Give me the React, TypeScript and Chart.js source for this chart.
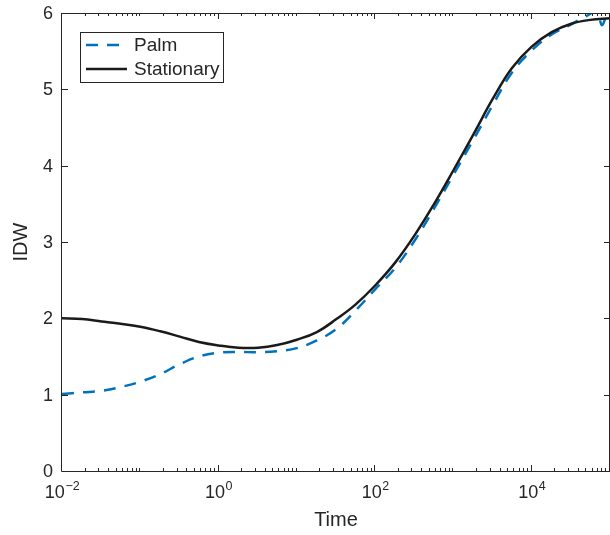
import React, { useEffect, useRef } from 'react';
import { Chart, registerables } from 'chart.js';

Chart.register(...registerables);

// Time values (log-spaced reading positions)
const timeStationary = [
  0.01, 0.018, 0.032, 0.056, 0.1, 0.18, 0.32, 0.56, 1, 1.8, 3.2, 5.6, 10, 18, 32, 56,
  100, 180, 320, 560, 1000, 1800, 3200, 5600, 10000, 18000, 32000, 56000, 100000,
];
const idwStationary = [
  2.0, 1.99, 1.96, 1.93, 1.89, 1.83, 1.76, 1.69, 1.645, 1.615, 1.615, 1.65, 1.72, 1.82, 1.99, 2.18,
  2.43, 2.73, 3.09, 3.49, 3.94, 4.41, 4.88, 5.28, 5.56, 5.75, 5.86, 5.91, 5.93,
];

const timePalm = [
  0.01, 0.018, 0.032, 0.056, 0.1, 0.18, 0.32, 0.56, 1, 1.8, 3.2, 5.6, 10, 18, 32, 56,
  100, 180, 320, 560, 1000, 1800, 3200, 5600, 10000, 18000, 32000, 40000, 50000, 56000,
  63000, 71000, 79000, 89000, 100000,
];
const idwPalm = [
  1.01, 1.03, 1.05, 1.1, 1.17, 1.27, 1.4, 1.5, 1.55, 1.56, 1.555, 1.57, 1.61, 1.71, 1.86, 2.1,
  2.38, 2.66, 3.02, 3.43, 3.88, 4.34, 4.8, 5.22, 5.51, 5.72, 5.85, 5.91, 5.96, 5.99,
  6.02, 5.97, 5.84, 5.95, 6.02,
];

const seriesNames = ['Palm', 'Stationary'];
const seriesColors = ['#0072BD', '#1a1a1a'];

const yTickValues = [0, 1, 2, 3, 4, 5, 6];
const yTickLabels = ['0', '1', '2', '3', '4', '5', '6'];
const xLabelValues = [0.01, 1, 100, 10000];
const xLabelExponents = ['\u22122', '0', '2', '4'];
const xDecadeStarts = [0.01, 0.1, 1, 10, 100, 1000, 10000];
const minorMultipliers = [2, 3, 4, 5, 6, 7, 8, 9];

const FONT = '"Liberation Sans", Arial, Helvetica, sans-serif';
const AXIS_COLOR = '#262626';
const DASH = [12, 9];

const matlabAxes = {
  id: 'matlabAxes',
  afterDatasetsDraw(chart: any) {
    const { ctx, chartArea, scales } = chart;
    const { left, right, top, bottom } = chartArea;
    const xs = scales.x;
    const ys = scales.y;
    ctx.save();
    ctx.strokeStyle = AXIS_COLOR;
    ctx.lineWidth = 1;
    // box
    ctx.beginPath();
    ctx.moveTo(left - 0.5, top + 0.5);
    ctx.lineTo(right + 0.5, top + 0.5);
    ctx.moveTo(left - 0.5, top + 0.5);
    ctx.lineTo(left - 0.5, bottom + 0.5);
    ctx.lineTo(right + 0.5, bottom + 0.5);
    ctx.moveTo(right - 0.5, top + 0.5);
    ctx.lineTo(right - 0.5, bottom + 0.5);
    ctx.stroke();

    // x ticks (inward, top and bottom)
    const major = 6;
    const minor = 3;
    ctx.beginPath();
    xDecadeStarts.forEach((d) => {
      const isMajor = xLabelValues.includes(d);
      const px = Math.round(xs.getPixelForValue(d)) - 0.5;
      const len = isMajor ? major : minor;
      ctx.moveTo(px, bottom);
      ctx.lineTo(px, bottom - len);
      ctx.moveTo(px, top);
      ctx.lineTo(px, top + len);
      minorMultipliers.forEach((m) => {
        const p = Math.round(xs.getPixelForValue(d * m)) - 0.5;
        ctx.moveTo(p, bottom);
        ctx.lineTo(p, bottom - minor);
        ctx.moveTo(p, top);
        ctx.lineTo(p, top + minor);
      });
    });
    // y ticks (inward, left and right)
    yTickValues.forEach((v) => {
      const py = Math.round(ys.getPixelForValue(v)) + 0.5;
      ctx.moveTo(left, py);
      ctx.lineTo(left + major, py);
      ctx.moveTo(right, py);
      ctx.lineTo(right - major, py);
    });
    ctx.stroke();

    // y tick labels
    ctx.fillStyle = AXIS_COLOR;
    ctx.font = `18px ${FONT}`;
    ctx.textAlign = 'right';
    ctx.textBaseline = 'middle';
    yTickValues.forEach((v, i) => {
      ctx.fillText(yTickLabels[i], left - 9, ys.getPixelForValue(v) + 1);
    });

    // x tick labels with superscripts
    ctx.textBaseline = 'alphabetic';
    ctx.textAlign = 'left';
    xLabelValues.forEach((v, i) => {
      const px = xs.getPixelForValue(v);
      ctx.font = `18px ${FONT}`;
      const w1 = ctx.measureText('10').width;
      ctx.font = `12.5px ${FONT}`;
      const w2 = ctx.measureText(xLabelExponents[i]).width;
      const start = px - (w1 + w2) / 2;
      ctx.font = `18px ${FONT}`;
      ctx.fillText('10', start, bottom + 27);
      ctx.font = `12.5px ${FONT}`;
      ctx.fillText(xLabelExponents[i], start + w1 + 0.5, bottom + 19);
    });

    // legend
    const lx = 80.5;
    const ly = 32.5;
    const lw = 143;
    const lh = 50;
    ctx.fillStyle = '#ffffff';
    ctx.fillRect(lx, ly, lw, lh);
    ctx.strokeStyle = AXIS_COLOR;
    ctx.strokeRect(lx, ly, lw, lh);
    const rows = [45, 69];
    chart.data.datasets.forEach((ds: any, i: number) => {
      const yy = rows[i];
      ctx.save();
      ctx.strokeStyle = ds.borderColor;
      ctx.lineWidth = ds.borderWidth;
      ctx.setLineDash(ds.borderDash || []);
      ctx.beginPath();
      ctx.moveTo(86, yy);
      ctx.lineTo(127, yy);
      ctx.stroke();
      ctx.restore();
      ctx.fillStyle = AXIS_COLOR;
      ctx.font = `19px ${FONT}`;
      ctx.textBaseline = 'middle';
      ctx.textAlign = 'left';
      ctx.fillText(ds.label, 134, yy + 1);
    });
    ctx.restore();
  },
};

export default function App() {
  const ref = useRef<HTMLCanvasElement | null>(null);
  useEffect(() => {
    if (!ref.current) return;
    const chart = new Chart(ref.current, {
      type: 'line',
      data: {
        datasets: [
          {
            label: seriesNames[0],
            data: timePalm.map((t, i) => ({ x: t, y: idwPalm[i] })),
            borderColor: seriesColors[0],
            borderWidth: 2.5,
            borderDash: DASH,
            pointRadius: 0,
            tension: 0.4,
            fill: false,
            order: 1,
          },
          {
            label: seriesNames[1],
            data: timeStationary.map((t, i) => ({ x: t, y: idwStationary[i] })),
            borderColor: seriesColors[1],
            borderWidth: 2.5,
            pointRadius: 0,
            tension: 0.4,
            fill: false,
            order: 0,
          },
        ],
      },
      options: {
        responsive: false,
        animation: false,
        devicePixelRatio: 1,
        layout: { padding: { left: 0, right: 0, top: 13, bottom: 0 } },
        plugins: { legend: { display: false }, tooltip: { enabled: false } },
        scales: {
          x: {
            type: 'logarithmic',
            min: 0.01,
            max: 100000,
            grid: { display: false, drawTicks: false },
            border: { display: false },
            ticks: { display: false },
            title: {
              display: true,
              text: 'Time',
              color: AXIS_COLOR,
              font: { family: FONT, size: 20 },
              padding: { top: 4, bottom: 3 },
            },
            afterFit: (s: any) => {
              s.height = 64;
            },
          },
          y: {
            type: 'linear',
            min: 0,
            max: 6,
            grid: { display: false, drawTicks: false },
            border: { display: false },
            ticks: { display: false, stepSize: 1 },
            title: {
              display: true,
              text: 'IDW',
              color: AXIS_COLOR,
              font: { family: FONT, size: 20 },
              padding: { top: 9, bottom: 4 },
            },
            afterFit: (s: any) => {
              s.width = 62;
            },
          },
        },
      },
      plugins: [matlabAxes],
    });
    return () => chart.destroy();
  }, []);
  return (
    <div style={{ position: 'fixed', left: 0, top: 0, width: 610, height: 535, background: '#fff' }}>
      <canvas ref={ref} width={610} height={535} style={{ display: 'block' }} />
    </div>
  );
}
